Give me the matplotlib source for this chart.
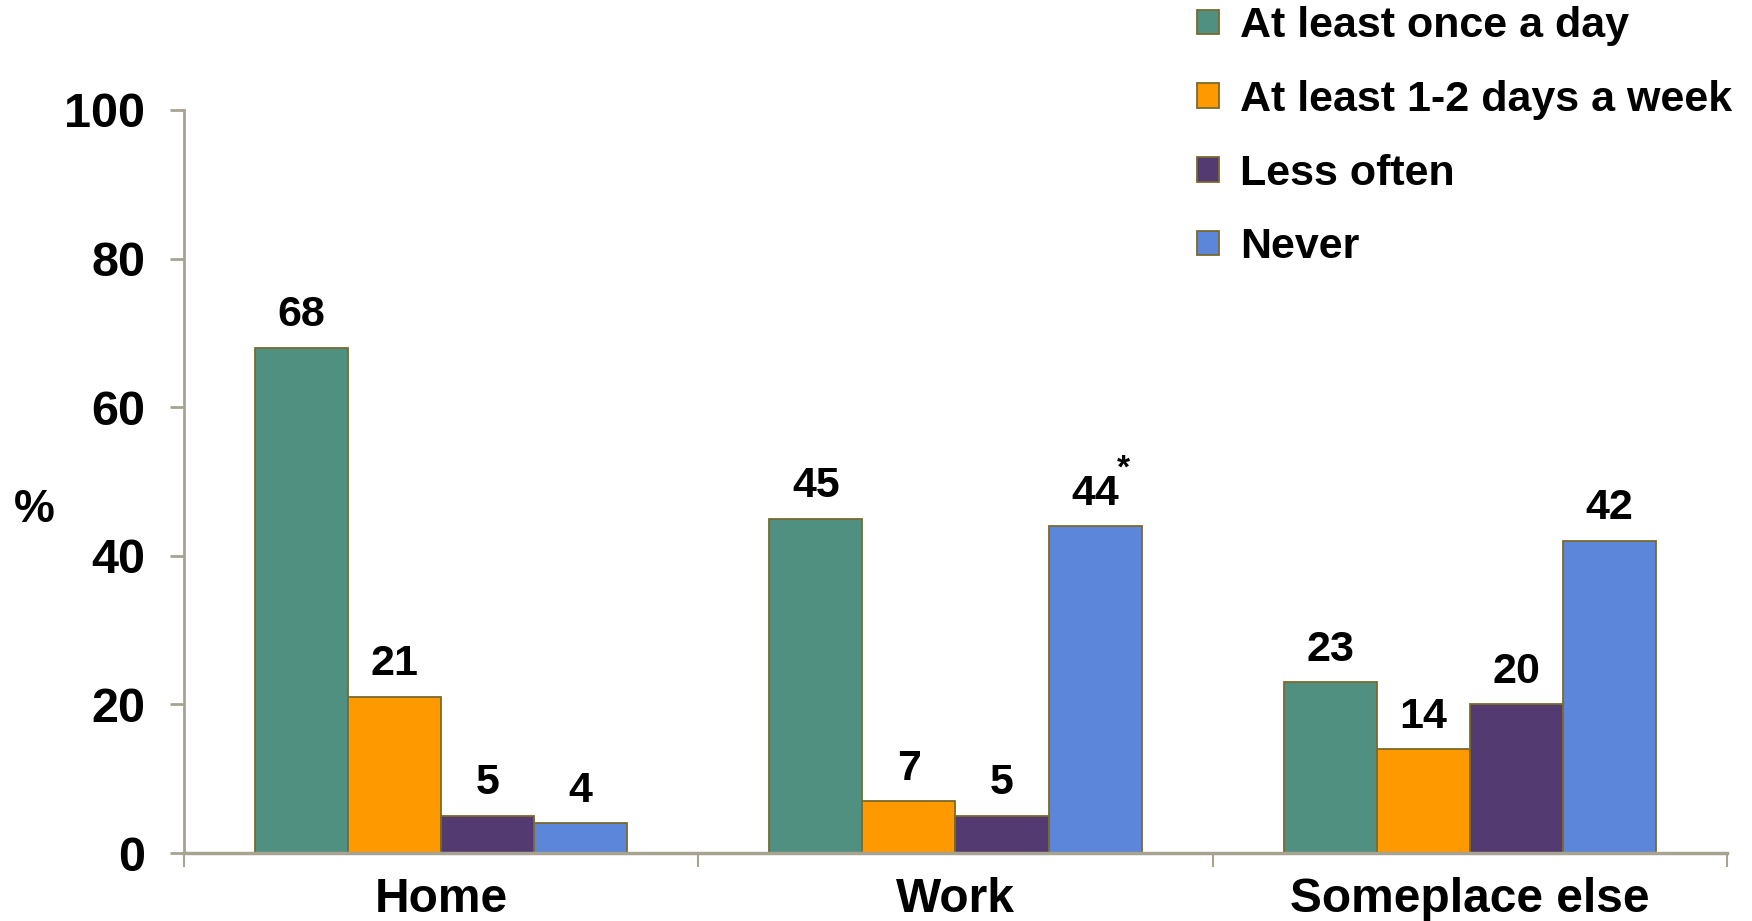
import matplotlib.pyplot as plt
import numpy as np

plt.rcParams['font.family'] = ['Liberation Sans', 'DejaVu Sans']
plt.rcParams['font.weight'] = 'bold'

categories = ['Home', 'Work', 'Someplace else']
series = ['At least once a day', 'At least 1-2 days a week', 'Less often', 'Never']
values = [
    [68, 45, 23],
    [21, 7, 14],
    [5, 5, 20],
    [4, 44, 42],
]
notes = [
    ['', '', ''],
    ['', '', ''],
    ['', '', ''],
    ['', '*', ''],
]
colors = ['#4F9080', '#FF9900', '#533A71', '#5B86DA']
edge = '#7A6A2E'
axcol = '#A8A391'

fig = plt.figure(figsize=(17.52, 9.21), dpi=100)
ax = fig.add_axes([0.105, 0.0738, 0.8807, 0.8068])

x = np.arange(len(categories))
w = 0.181
for i, (name, vals) in enumerate(zip(series, values)):
    pos = x + (i - 1.5) * w
    ax.bar(pos, vals, w, color=colors[i], edgecolor=edge, linewidth=1.3, label=name)
    for p, v, n in zip(pos, vals, notes[i]):
        ax.annotate(str(v), (p, v), xytext=(0, 9), textcoords='offset points',
                    ha='center', va='bottom', fontsize=31, fontweight='bold')
        if n:
            ax.annotate(n, (p, v), xytext=(16, 30), textcoords='offset points',
                        ha='left', va='bottom', fontsize=24, fontweight='bold')

ax.set_xlim(-0.5, 2.5)
ax.set_ylim(0, 100)
ax.set_yticks([0, 20, 40, 60, 80, 100])
ax.tick_params(axis='y', labelsize=35, length=10, width=2, color=axcol, pad=18)
ax.set_xticks(x)
ax.set_xticklabels(categories)
ax.tick_params(axis='x', which='major', length=0, labelsize=34.5, pad=17)
ax.set_xticks([-0.5, 0.5, 1.5, 2.5], minor=True)
ax.tick_params(axis='x', which='minor', length=10, width=1.5, color=axcol)
for lab in ax.get_xticklabels() + ax.get_yticklabels():
    lab.set_fontweight('bold')

for s in ['top', 'right']:
    ax.spines[s].set_visible(False)
ax.spines['left'].set_color(axcol)
ax.spines['left'].set_linewidth(2)
ax.spines['bottom'].set_color(axcol)
ax.spines['bottom'].set_linewidth(2.5)

fig.text(34 / 1752, 1 - 510 / 921, '%', ha='center', va='center',
         fontsize=33, fontweight='bold')

fig.legend(loc='upper left', bbox_to_anchor=(1197 / 1752, 0.993), frameon=False,
           fontsize=31, handlelength=0.5, handleheight=0.5, handletextpad=0.5,
           labelspacing=0.78, borderpad=0, borderaxespad=0)

fig.savefig('out.png', dpi=100)
